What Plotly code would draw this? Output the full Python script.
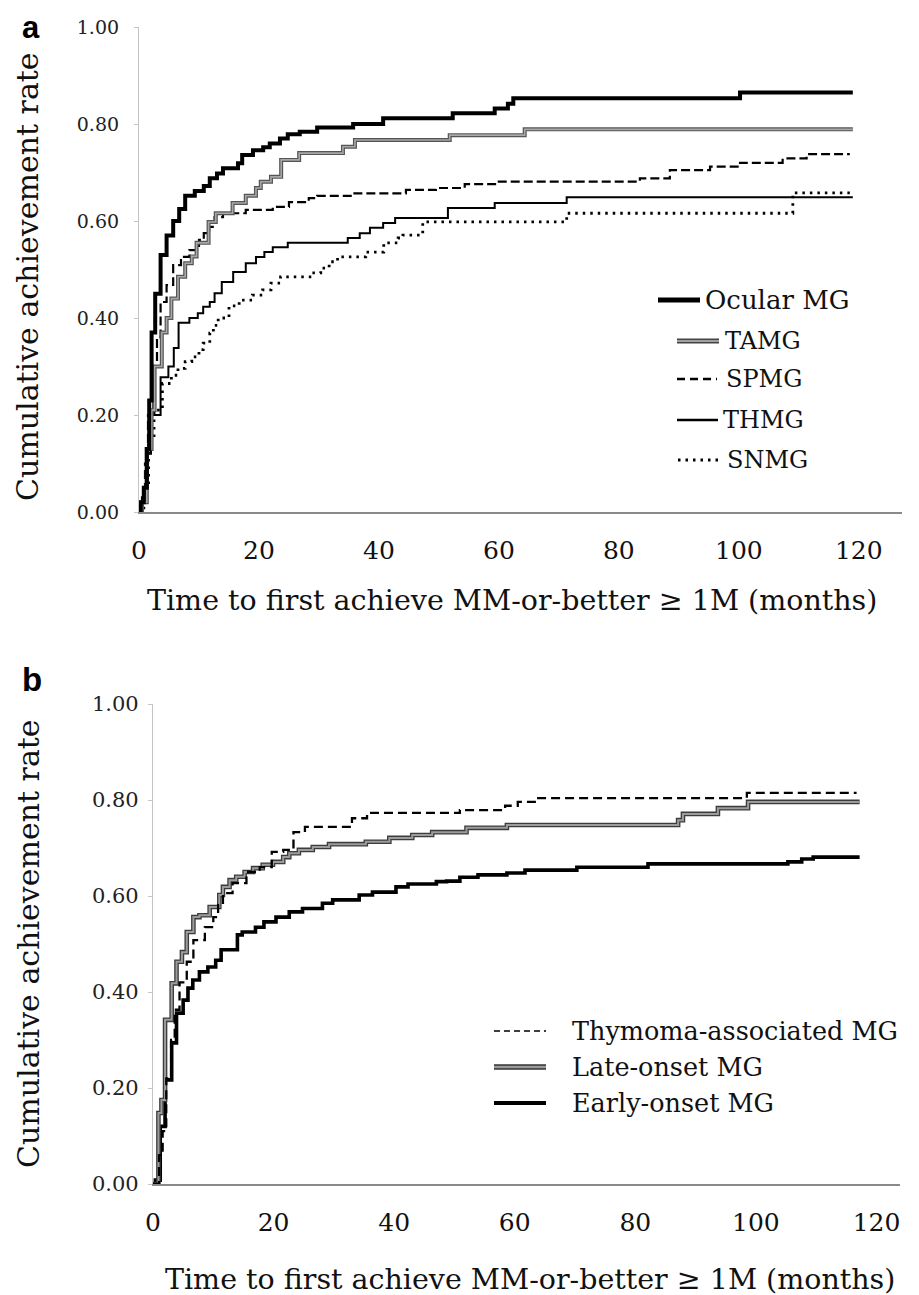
import plotly.graph_objects as go

# ---------------- data ----------------
# Panel a
ocular_t = [0, 0.3, 0.8, 1.3, 1.7, 2.1, 2.7, 3.6, 4.6, 5.7, 6.7, 7.7, 9.3, 10.8, 11.8, 13, 14, 16.5, 17.2, 19, 20.7,
            21.8, 23.5, 24.8, 26.8, 29.7, 35.7, 40.7, 52.3, 59.3, 61.5, 62.4, 100.2, 119]
ocular_v = [0, 0.02, 0.05, 0.13, 0.23, 0.37, 0.45, 0.53, 0.57, 0.60, 0.625, 0.652, 0.662, 0.672, 0.688, 0.698, 0.709,
            0.719, 0.736, 0.746, 0.752, 0.76, 0.77, 0.779, 0.784, 0.793, 0.80, 0.812, 0.822, 0.832, 0.842, 0.853,
            0.865, 0.865]

tamg_t = [0, 0.5, 1.3, 2.1, 2.6, 3.8, 4.6, 5.4, 6.5, 7.7, 8.8, 9.6, 11.6, 12.8, 15.6, 17.8, 19.5, 20.3, 22, 23.7,
          26.7, 34, 36, 51.8, 64.3, 119]
tamg_v = [0, 0.02, 0.13, 0.21, 0.30, 0.37, 0.40, 0.44, 0.485, 0.513, 0.527, 0.555, 0.598, 0.616, 0.637, 0.652,
          0.668, 0.681, 0.691, 0.726, 0.74, 0.753, 0.767, 0.777, 0.789, 0.789]

spmg_t = [0, 0.5, 1.0, 1.5, 2.4, 3.0, 3.6, 4.6, 5.7, 7.0, 8.4, 10, 10.8, 11.7, 12.6, 14, 17.8, 22.3, 25, 28.3, 29.7,
          35.5, 44.5, 49.5, 54.3, 59.7, 83.5, 88.5, 95.2, 100.2, 107.3, 111.3, 118.5]
spmg_v = [0, 0.03, 0.10, 0.20, 0.30, 0.36, 0.433, 0.468, 0.509, 0.526, 0.54, 0.561, 0.575, 0.588, 0.608, 0.616,
          0.623, 0.629, 0.639, 0.647, 0.652, 0.657, 0.664, 0.668, 0.676, 0.681, 0.688, 0.705, 0.712, 0.72, 0.729,
          0.738, 0.738]

thmg_t = [0, 0.5, 1.0, 1.5, 2.0, 3.6, 4.9, 5.8, 6.6, 8.4, 9.8, 10.7, 11.8, 12.6, 13.8, 15.7, 17.8, 19.5, 20.9, 22.3,
          24.8, 34.8, 36.8, 38.5, 40.7, 42.7, 51.5, 59.3, 71.3, 119]
thmg_v = [0, 0.02, 0.05, 0.12, 0.20, 0.278, 0.30, 0.338, 0.39, 0.40, 0.41, 0.423, 0.433, 0.451, 0.474, 0.495, 0.513,
          0.526, 0.536, 0.546, 0.555, 0.565, 0.575, 0.586, 0.596, 0.606, 0.627, 0.637, 0.649, 0.649]

snmg_t = [0, 0.8, 1.6, 2.5, 3.9, 5.4, 6.5, 7.7, 8.8, 10.0, 10.7, 11.8, 12.4, 13.2, 15, 16.7, 18.9, 20.6, 22, 23.6,
          28.9, 30.3, 31.7, 33.1, 37.8, 40.8, 43.2, 44, 47.3, 71.3, 109, 118.5]
snmg_v = [0, 0.05, 0.15, 0.21, 0.265, 0.282, 0.296, 0.31, 0.32, 0.335, 0.348, 0.369, 0.385, 0.40, 0.425, 0.437,
          0.447, 0.458, 0.472, 0.485, 0.493, 0.503, 0.516, 0.526, 0.536, 0.555, 0.565, 0.571, 0.598, 0.616, 0.658,
          0.658]

# Panel b
thym_t = [0, 1.0, 1.6, 2.2, 3.0, 3.6, 4.4, 5.6, 6.7, 8.6, 10, 10.8, 11.6, 13.2, 15.5, 17.7, 19.7, 21.6, 23.3, 25.2,
          33, 35.5, 50.9, 58.4, 60.5, 63.7, 98.5, 116.7]
thym_v = [0, 0.06, 0.11, 0.22, 0.30, 0.363, 0.42, 0.463, 0.508, 0.535, 0.556, 0.581, 0.606, 0.627, 0.65, 0.66,
          0.692, 0.696, 0.733, 0.744, 0.762, 0.773, 0.779, 0.788, 0.796, 0.804, 0.815, 0.815]

late_t = [0, 0.9, 1.4, 2.0, 3.1, 3.9, 4.8, 5.6, 6.7, 7.7, 9.4, 11, 11.6, 12.7, 13.8, 15.2, 16.6, 18.2, 19.9, 21.6,
          22.6, 24.2, 26.5, 29.2, 35.3, 39.2, 43, 46.3, 52, 58.7, 87.1, 87.9, 93.7, 98.7, 117.2]
late_v = [0, 0.148, 0.175, 0.342, 0.418, 0.463, 0.483, 0.525, 0.556, 0.56, 0.577, 0.602, 0.619, 0.633, 0.64, 0.65,
          0.658, 0.665, 0.671, 0.681, 0.689, 0.696, 0.702, 0.708, 0.713, 0.721, 0.727, 0.733, 0.742, 0.748, 0.758,
          0.771, 0.783, 0.796, 0.796]

early_t = [0, 0.4, 1.2, 2.0, 3.1, 3.9, 5.0, 5.8, 6.6, 7.7, 9.1, 10.4, 11.3, 14, 14.8, 17, 18.4, 20.4, 22.6, 24.8,
           28.1, 29.8, 34.2, 36.4, 40.3, 42.3, 47, 48.7, 50.9, 53.9, 58.7, 61.7, 70.3, 82.1, 105.3, 107.6, 109.5,
           117.2]
early_v = [0, 0.008, 0.12, 0.217, 0.294, 0.356, 0.383, 0.408, 0.425, 0.442, 0.452, 0.466, 0.488, 0.519, 0.525,
           0.535, 0.546, 0.556, 0.567, 0.574, 0.585, 0.592, 0.602, 0.608, 0.619, 0.625, 0.63, 0.631, 0.639, 0.644,
           0.648, 0.654, 0.66, 0.667, 0.671, 0.677, 0.681, 0.681]

x_ticks = [0, 20, 40, 60, 80, 100, 120]
y_ticks = [0.0, 0.2, 0.4, 0.6, 0.8, 1.0]

legend_a = ["Ocular MG", "TAMG", "SPMG", "THMG", "SNMG"]
legend_b = ["Thymoma-associated MG", "Late-onset MG", "Early-onset MG"]

x_title = "Time to first achieve MM-or-better \u2265 1M (months)"
y_title = "Cumulative achievement rate"

# ---------------- layout helpers ----------------
# the page body has an 8px margin, so the figure is drawn 8px smaller and
# reference pixel positions are shifted by that offset
OFF = 8
W, H = 919 - OFF, 1295 - OFF
SERIF = "DejaVu Serif"


def px(x):
    return (x - OFF) / W


def py(y):
    return 1 - (y - OFF) / H


fig = go.Figure()


def step(x, y, line, xa, ya, name):
    fig.add_trace(go.Scatter(x=x, y=y, mode="lines", line=dict(shape="hv", **line), xaxis=xa, yaxis=ya,
                             name=name, showlegend=False, hoverinfo="x+y+name"))


# panel a
step(snmg_t, snmg_v, dict(color="black", width=2.8, dash="2.5px,5px"), "x", "y", "SNMG")
step(thmg_t, thmg_v, dict(color="black", width=2), "x", "y", "THMG")
step(spmg_t, spmg_v, dict(color="black", width=2.2, dash="9px,4px"), "x", "y", "SPMG")
step(tamg_t, tamg_v, dict(color="#555555", width=4), "x", "y", "TAMG")
step(tamg_t, tamg_v, dict(color="#a8a8a8", width=1.6), "x", "y", "TAMG")
step(ocular_t, ocular_v, dict(color="black", width=4), "x", "y", "Ocular MG")

# panel b
step(early_t, early_v, dict(color="black", width=3.6), "x2", "y2", "Early-onset MG")
step(late_t, late_v, dict(color="#3c3c3c", width=4.6), "x2", "y2", "Late-onset MG")
step(late_t, late_v, dict(color="#9c9c9c", width=2), "x2", "y2", "Late-onset MG")
step(thym_t, thym_v, dict(color="black", width=2.3, dash="9px,5px"), "x2", "y2", "Thymoma-associated MG")

axis_common_x = dict(tickvals=x_ticks, ticktext=[str(v) for v in x_ticks], showgrid=False, zeroline=False,
                     showline=True, linecolor="#8a8a8a", linewidth=2, ticks="", automargin=False,
                     tickfont=dict(family=SERIF, size=25, color="#111"))
axis_common_y = dict(tickvals=y_ticks, ticktext=[f"{v:.2f}" for v in y_ticks], showgrid=False, zeroline=False,
                     showline=True, linecolor="#c4c4c4", linewidth=1.2, ticks="outside", ticklen=4,
                     tickcolor="#c4c4c4", range=[0, 1.0], automargin=False)

fig.update_layout(
    width=W, height=H, margin=dict(l=0, r=0, t=0, b=0, autoexpand=False),
    paper_bgcolor="white", plot_bgcolor="white", showlegend=False,
    xaxis=dict(domain=[px(139), px(902)], range=[0, 127.2], anchor="y", ticklabelstandoff=15, **axis_common_x),
    yaxis=dict(domain=[py(512), py(27)], anchor="x", ticklabelstandoff=11,
               tickfont=dict(family=SERIF, size=19, color="#222"), **axis_common_y),
    xaxis2=dict(domain=[px(153), px(900)], range=[0, 123.9], anchor="y2", ticklabelstandoff=15, **axis_common_x),
    yaxis2=dict(domain=[py(1184), py(704)], anchor="x2", ticklabelstandoff=5,
                tickfont=dict(family=SERIF, size=21, color="#222"), **axis_common_y),
)

ann = []
# panel labels
ann.append(dict(text="<b>a</b>", x=px(31), y=py(27), font=dict(family="Liberation Sans", size=31, color="black")))
ann.append(dict(text="<b>b</b>", x=px(32), y=py(679), font=dict(family="Liberation Sans", size=33, color="black")))
# axis titles
ann.append(dict(text=x_title, x=px(512), y=py(600), font=dict(family=SERIF, size=28.5, color="#111")))
ann.append(dict(text=x_title, x=px(530), y=py(1279), font=dict(family=SERIF, size=28.5, color="#111")))
ann.append(dict(text=y_title, x=px(27), y=py(277), textangle=-90, font=dict(family=SERIF, size=30, color="#111")))
ann.append(dict(text=y_title, x=px(28), y=py(944), textangle=-90, font=dict(family=SERIF, size=30, color="#111")))

shapes = []
# legend a
leg_a_y = [300, 341, 379, 420, 460]
leg_a_x0 = [658, 677, 677, 677, 678]
leg_a_x1 = [700, 719, 717, 718, 720]
leg_a_tx = [703, 723, 724, 721, 725]
leg_a_fs = [26, 24, 24, 24, 24]
leg_a_styles = [[dict(color="black", width=5)],
                [dict(color="#444444", width=5), dict(color="#a0a0a0", width=2)],
                [dict(color="black", width=2.5, dash="8px,5px")],
                [dict(color="black", width=2.5)],
                [dict(color="black", width=3, dash="2.5px,5px")]]
for name, yy, x0, x1, tx, fs, sts in zip(legend_a, leg_a_y, leg_a_x0, leg_a_x1, leg_a_tx, leg_a_fs, leg_a_styles):
    for st in sts:
        shapes.append(dict(type="line", xref="paper", yref="paper", x0=px(x0), x1=px(x1), y0=py(yy), y1=py(yy),
                           line=st))
    ann.append(dict(text=name, x=px(tx), y=py(yy), xanchor="left", font=dict(family=SERIF, size=fs, color="#111")))

# legend b
leg_b_y = [1031, 1067, 1103]
leg_b_styles = [[dict(color="black", width=1.6, dash="6px,4px")],
                [dict(color="#333333", width=5.5), dict(color="#9a9a9a", width=2.5)],
                [dict(color="black", width=4)]]
for name, yy, sts in zip(legend_b, leg_b_y, leg_b_styles):
    for st in sts:
        shapes.append(dict(type="line", xref="paper", yref="paper", x0=px(494), x1=px(546), y0=py(yy), y1=py(yy),
                           line=st))
    ann.append(dict(text=name, x=px(570), y=py(yy), xanchor="left", font=dict(family=SERIF, size=25.5, color="#111")))

for a in ann:
    a.setdefault("xref", "paper")
    a.setdefault("yref", "paper")
    a.setdefault("xanchor", "center")
    a.setdefault("yanchor", "middle")
    a.setdefault("showarrow", False)
fig.update_layout(annotations=ann, shapes=shapes)

fig.write_html("out.html")
